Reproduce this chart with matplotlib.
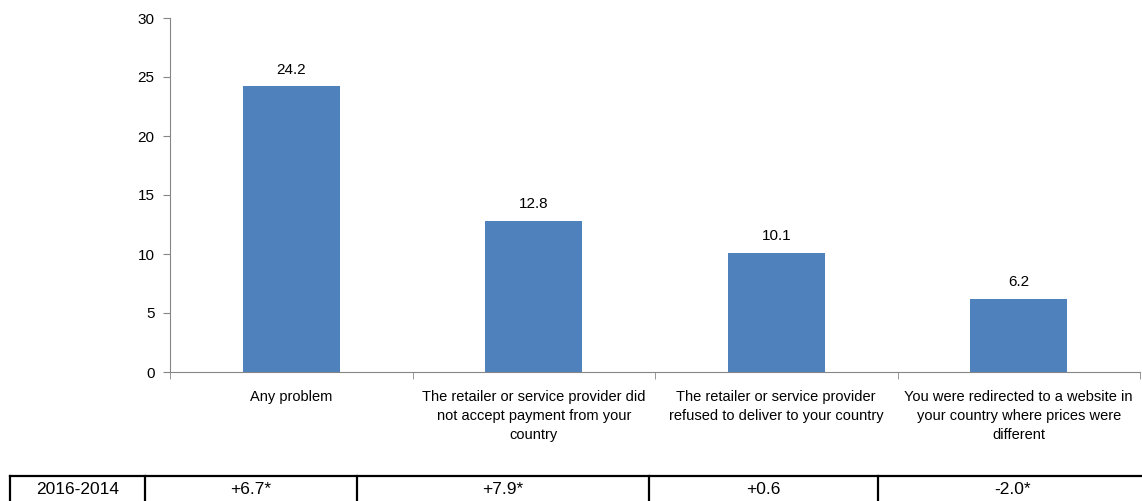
import matplotlib
matplotlib.use("Agg")
import matplotlib.pyplot as plt
import numpy as np

# donnees
categories = ["Any problem",
              "The retailer or service provider did\nnot accept payment from your\ncountry",
              "The retailer or service provider\nrefused to deliver to your country",
              "You were redirected to a website in\nyour country where prices were\ndifferent"]
values = [24.2, 12.8, 10.1, 6.2]
row_label = "2016-2014"
changes = ["+6.7*", "+7.9*", "+0.6", "-2.0*"]
yticks = [0, 5, 10, 15, 20, 25, 30]

W, H = 1142, 501
plt.rcParams['font.family'] = ['Liberation Sans', 'DejaVu Sans']
fig = plt.figure(figsize=(W / 100, H / 100), dpi=100)

# axe principal (en pixels -> fraction)
left, right, top, bottom = 170, 1140, 18, 372
ax = fig.add_axes([left / W, 1 - bottom / H, (right - left) / W, (bottom - top) / H])
x = np.arange(len(values))
ax.bar(x, values, width=0.4, color="#4F81BD", zorder=2)
for xi, v in zip(x, values):
    ax.annotate("%.1f" % v, (xi, v), xytext=(0, 7), textcoords="offset points",
                ha="center", va="bottom", fontsize=11)
ax.set_xlim(-0.5, len(values) - 0.5)
ax.set_ylim(0, 30)
ax.set_yticks(yticks)
ax.tick_params(axis="y", labelsize=11, length=5, color="#868686", pad=6)
ax.set_xticks(x)
ax.set_xticklabels(categories, fontsize=10.5, linespacing=1.45)
ax.tick_params(axis="x", length=0, pad=13)
# ticks de separation sur l'axe x
ax.set_xticks(np.arange(len(values) + 1) - 0.5, minor=True)
ax.tick_params(axis="x", which="minor", length=5, color="#868686", direction="out")
for s in ["top", "right"]:
    ax.spines[s].set_visible(False)
ax.spines["left"].set_color("#868686")
ax.spines["bottom"].set_color("#868686")

# tableau du bas
tab = fig.add_axes([0, 0, 1, 1], zorder=-1)
tab.set_xlim(0, W)
tab.set_ylim(H, 0)
tab.axis("off")
bounds = [10, 145, 357, 649, 878, W + 5]
ytop = 476
tab.plot([bounds[0], W], [ytop, ytop], color="black", lw=1.6)
for b in bounds[:-1]:
    tab.plot([b, b], [ytop, H + 5], color="black", lw=1.6)
cells = [row_label] + changes
for i, t in enumerate(cells):
    cx = (bounds[i] + bounds[i + 1]) / 2
    tab.text(cx, 490, t, ha="center", va="center", fontsize=12.5)

fig.savefig("out.png", dpi=100)
